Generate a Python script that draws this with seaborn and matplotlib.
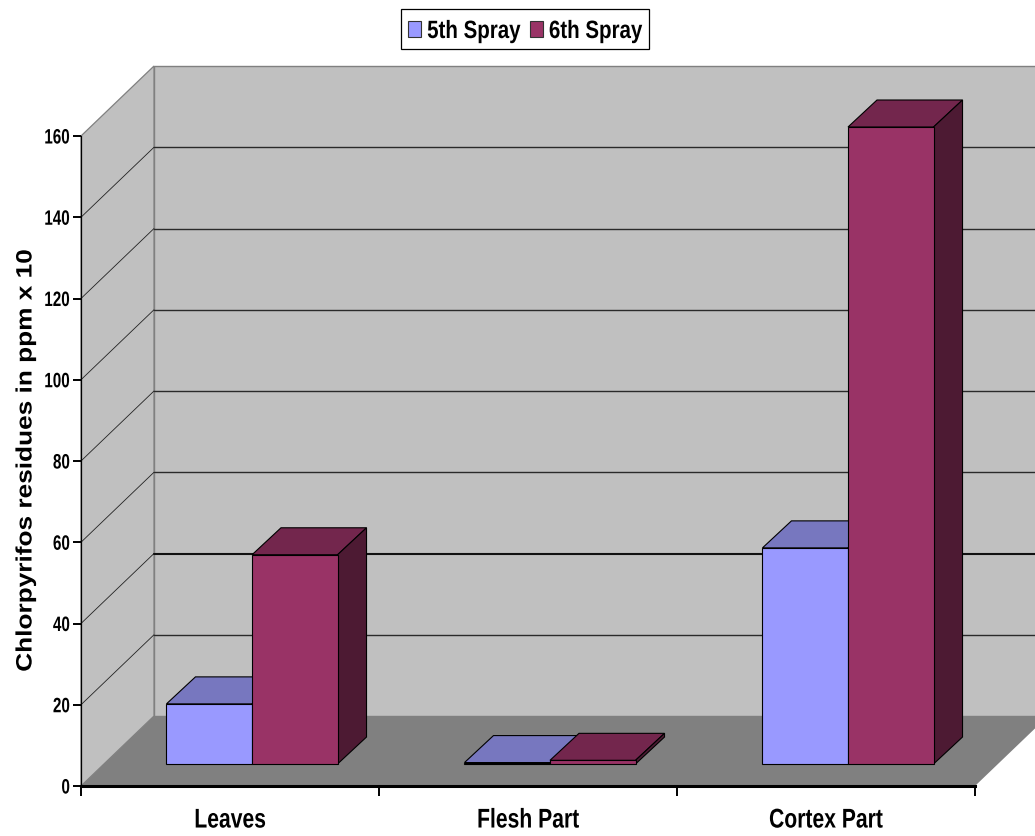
import matplotlib
matplotlib.use("Agg")
import matplotlib.pyplot as plt
from matplotlib.patches import Polygon, Rectangle
from matplotlib.patheffects import AbstractPathEffect
from matplotlib.transforms import Affine2D
import pandas as pd
import seaborn as sns

parts = ["Leaves", "Flesh Part", "Cortex Part"]
spray_names = ["5th Spray", "6th Spray"]
spray5 = [14.8, 0.35, 53.2]
spray6 = [51.5, 0.9, 156.8]
y_ticks = [0, 20, 40, 60, 80, 100, 120, 140, 160]

front_colors = ["#9999FF", "#993366"]
top_colors = ["#7777BF", "#73264D"]
side_colors = ["#5C5C99", "#4D1A33"]


class Stretch(AbstractPathEffect):
    """Rescale a text outline about one of its edges or its centre."""

    def __init__(self, sx=1.0, sy=1.0, anchor="center"):
        super().__init__()
        self.sx, self.sy, self.anchor = sx, sy, anchor

    def draw_path(self, renderer, gc, tpath, affine, rgbFace=None):
        box = affine.transform_path(tpath).get_extents()
        cx = {"left": box.x0, "right": box.x1, "center": (box.x0 + box.x1) / 2}[self.anchor]
        cy = (box.y0 + box.y1) / 2
        squeeze = Affine2D().translate(-cx, -cy).scale(self.sx, self.sy).translate(cx, cy)
        renderer.draw_path(gc, tpath, affine + squeeze, rgbFace)


sns.set_theme(style="white")
plt.rcParams["font.family"] = ["Liberation Sans"]

W, H = 1035, 836
fig = plt.figure(figsize=(W / 100, H / 100), dpi=100, facecolor="white")
ax = fig.add_axes([81 / W, (H - 786) / H, (975 - 81) / W, (786 - 136) / H])
ax.patch.set_visible(False)

table = pd.DataFrame({
    "part": parts * 2,
    "spray": [spray_names[0]] * 3 + [spray_names[1]] * 3,
    "value": spray5 + spray6,
})
sns.barplot(data=table, x="part", y="value", hue="spray", palette=front_colors,
            width=0.574, gap=0, saturation=1, legend=False, ax=ax)
ax.set_xlim(-0.5, 2.5)
ax.set_ylim(0, 160)


def shifted(dx, dy):
    """Data coordinates pushed back into the box by a pixel offset."""
    return ax.transData + Affine2D().translate(dx, dy)


# Box walls and floor
WALL = (73, 70)
x0, x1 = ax.get_xlim()
y0, y1 = ax.get_ylim()
to_px = ax.transData.transform
(px0, py0), (px1, py1) = to_px((x0, y0)), to_px((x1, y1))
wx, wy = WALL
ax.add_patch(Polygon([(px0 + wx, py0 + wy), (px1 + wx, py0 + wy), (px1 + wx, py1 + wy), (px0 + wx, py1 + wy)],
                     closed=True, transform=None, facecolor="#C0C0C0", edgecolor="#808080",
                     linewidth=1, clip_on=False, zorder=0.5))
ax.add_patch(Polygon([(px0, py0), (px0 + wx, py0 + wy), (px0 + wx, py1 + wy), (px0, py1)],
                     closed=True, transform=None, facecolor="#C0C0C0", edgecolor="#808080",
                     linewidth=0.9, clip_on=False, zorder=0.5))
ax.add_patch(Polygon([(px0, py0), (px1, py0), (px1 + wx, py0 + wy), (px0 + wx, py0 + wy)],
                     closed=True, transform=None, facecolor="#808080", edgecolor="none",
                     clip_on=False, zorder=0.55))

# Grid lines: a fine one along the side wall, a firmer one across the back wall
for tick in y_ticks[1:-1]:
    px_y = to_px((x0, tick))[1]
    ax.plot([px0, px0 + wx], [px_y, px_y + wy], transform=None,
            color="#222222", linewidth=0.6, clip_on=False, zorder=0.7)
    ax.plot([px0 + wx, px1 + wx], [px_y + wy, px_y + wy], transform=None,
            color="#111111" if tick == 40 else "#2A2A2A", linewidth=1.5 if tick == 40 else 1.0,
            clip_on=False, zorder=0.7)

# Solid faces on top of the flat bars drawn by seaborn
BAR_SHIFT = (22, 22)
DEPTH = (29, 27)
dx, dy = DEPTH
for s, container in enumerate(ax.containers):
    base = 2 + s
    for bar in container:
        bar.set_transform(shifted(*BAR_SHIFT))
        bar.set_edgecolor("black")
        bar.set_linewidth(0.8)
        bar.set_clip_on(False)
        bar.set_zorder(base + 0.2)
        lx, rx = bar.get_x(), bar.get_x() + bar.get_width()
        (xa, ya), (xb, yb) = to_px((lx, 0)), to_px((rx, bar.get_height()))
        xa, xb = xa + BAR_SHIFT[0], xb + BAR_SHIFT[0]
        ya, yb = ya + BAR_SHIFT[1], yb + BAR_SHIFT[1]
        ax.add_patch(Polygon([(xa, yb), (xb, yb), (xb + dx, yb + dy), (xa + dx, yb + dy)],
                             closed=True, transform=None, facecolor=top_colors[s],
                             edgecolor="black", linewidth=0.8, clip_on=False, zorder=base))
        ax.add_patch(Polygon([(xb, ya), (xb + dx, ya + dy), (xb + dx, yb + dy), (xb, yb)],
                             closed=True, transform=None, facecolor=side_colors[s],
                             edgecolor="black", linewidth=0.8, clip_on=False, zorder=base + 0.1))

# Axes
sns.despine(ax=ax, top=True, right=True)
ax.spines["left"].set(color="black", linewidth=0.9, zorder=1)
ax.spines["bottom"].set(color="black", linewidth=2.2, zorder=6)
ax.set_yticks(y_ticks)
ax.set_yticklabels([str(t) for t in y_ticks], fontsize=15, fontweight="bold", color="black",
                   path_effects=[Stretch(sx=0.73, anchor="right")])
ax.tick_params(axis="y", left=True, length=5.8, width=1.4, color="black", pad=2)
ax.set_xticks(range(len(parts)))
ax.set_xticklabels(parts, fontsize=19.5, fontweight="bold", color="black",
                   path_effects=[Stretch(sx=0.78)])
ax.set_xticks([x0, 0.5, 1.5, x1], minor=True)
ax.tick_params(axis="x", which="major", bottom=False, length=0, pad=15.5)
ax.tick_params(axis="x", which="minor", bottom=True, length=7.5, width=1.4, color="black")
ax.set_xlabel("")
ax.set_ylabel("Chlorpyrifos residues in ppm x 10", fontsize=16, fontweight="bold", color="black",
              path_effects=[Stretch(sy=1.18)])
ax.yaxis.set_label_coords(26 / W, 1 - 461 / H, transform=fig.transFigure)
ax.yaxis.label.set_verticalalignment("center")

# Legend with a frame sized to the condensed labels
fig.add_artist(Rectangle((401 / W, 1 - 49 / H), 248 / W, 40 / H, transform=fig.transFigure,
                         facecolor="white", edgecolor="black", linewidth=0.9, zorder=1))
handles = [Rectangle((0, 0), 1, 1, facecolor=c, edgecolor="#333333", linewidth=0.8) for c in front_colors]
legend = fig.legend(handles, spray_names, loc="center left", bbox_to_anchor=(408 / W, 1 - 31 / H),
                    ncol=2, frameon=False, prop={"weight": "bold", "size": 18},
                    handlelength=0.52, handleheight=0.64, handletextpad=0.24, columnspacing=-0.44,
                    borderpad=0, borderaxespad=0)
for text in legend.get_texts():
    text.set_color("black")
    text.set_path_effects([Stretch(sx=0.82, anchor="left")])

fig.savefig("out.png", dpi=100)
